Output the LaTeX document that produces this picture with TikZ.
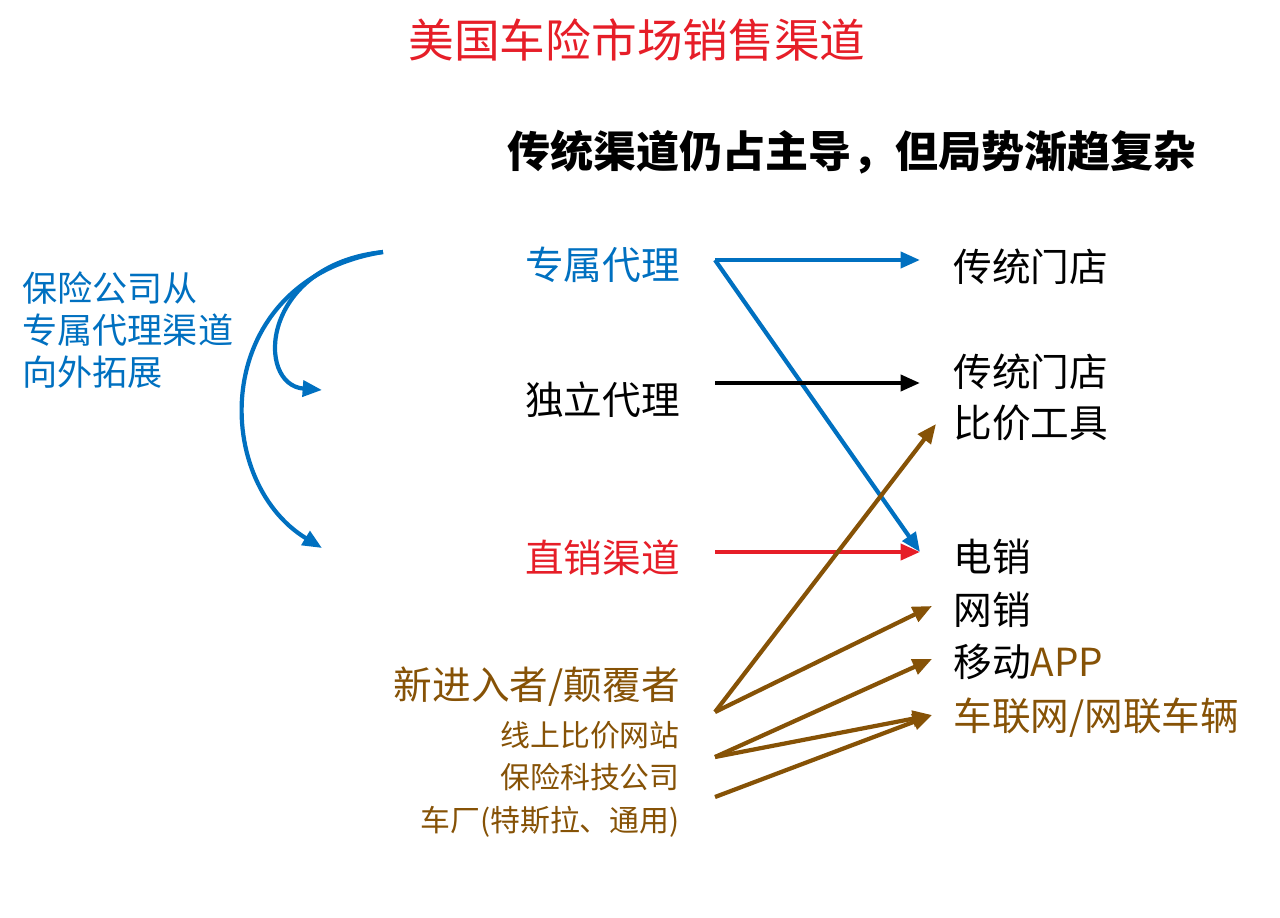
\documentclass[tikz,border=0pt]{standalone}
\usepackage{fontspec}
\setmainfont{Noto Sans CJK SC}
\usetikzlibrary{arrows.meta}
\definecolor{chblue}{RGB}{0,112,192}
\definecolor{chred}{RGB}{230,30,40}
\definecolor{chbrown}{RGB}{134,82,6}
\tikzset{>={Triangle[length=11pt,width=9pt]},
  lbl/.style={anchor=east,inner sep=0pt,font=\fontsize{22pt}{26pt}\selectfont},
  sub/.style={anchor=east,inner sep=0pt,font=\fontsize{17pt}{20pt}\selectfont,text=chbrown},
  tgt/.style={anchor=west,inner sep=0pt,font=\fontsize{22pt}{26pt}\selectfont},
  link/.style={->,line width=2.4pt}}

\begin{document}
\begin{tikzpicture}[x=0.02cm,y=-0.02cm]
	\useasboundingbox (0,0) rectangle (1280,918);
	\node (title) at (637,40) {\fontsize{26pt}{30pt}\selectfont\color{chred}美国车险市场销售渠道};
	\node (head) at (852,152) {\fontsize{24.5pt}{30pt}\selectfont\bfseries 传统渠道仍占主导，但局势渐趋复杂};
	\node [anchor=west,align=left,inner sep=0pt,text=chblue,font=\fontsize{20pt}{24pt}\selectfont] (note) at (22,330) {保险公司从\\专属代理渠道\\向外拓展};
	% channels
	\node [lbl,text=chblue] (excl) at (680,265) {专属代理};
	\node [lbl] (indep) at (680,400) {独立代理};
	\node [lbl,text=chred] (direct) at (680,558) {直销渠道};
	\node [lbl,text=chbrown] (newin) at (680,687) {新进入者/颠覆者};
	\node [sub] (online) at (680,735) {线上比价网站};
	\node [sub] (tech) at (680,777) {保险科技公司};
	\node [sub] (oem) at (680,822) {车厂(特斯拉、通用)};
	% targets
	\node [tgt] (store1) at (953,267) {传统门店};
	\node [tgt] (store2) at (953,372) {传统门店};
	\node [tgt] (compare) at (953,423) {比价工具};
	\node [tgt] (phone) at (953,557) {电销};
	\node [tgt] (web) at (953,610) {网销};
	\node [tgt] (app) at (953,662) {移动\textcolor{chbrown}{APP}};
	\node [tgt,text=chbrown] (iov) at (953,718) {车联网/网联车辆};
	% arrow ends
	\coordinate (e1) at (715,260); \coordinate (e2) at (715,383);
	\coordinate (e3) at (715,552); \coordinate (b1) at (715,712);
	\coordinate (b2) at (715,757); \coordinate (b3) at (715,797);
	\coordinate (t1) at (920,260); \coordinate (t2) at (920,383);
	\coordinate (t3) at (920,552); \coordinate (t4) at (936,424);
	\coordinate (t5) at (932,606); \coordinate (t6) at (932,659);
	\coordinate (t7) at (932,715);
	\draw [link,chblue] (e1) -- (t1);
	\draw [link,chblue] (e1) -- (t3);
	\draw [link] (e2) -- (t2);
	\draw [link,chred] (e3) -- (t3);
	\draw [link,chbrown] (b1) -- (t4);
	\draw [link,chbrown] (b1) -- (t5);
	\draw [link,chbrown] (b2) -- (t6);
	\draw [link,chbrown] (b2) -- (t7);
	\draw [link,chbrown] (b3) -- (t7);
	% expansion curves
	\coordinate (src) at (383,252);
	\coordinate (c1) at (322,390); \coordinate (c2) at (322,548);
	\draw [link,chblue] (src) .. controls (260,265) and (255,385) .. (c1);
	\draw [link,chblue] (src) .. controls (210,280) and (210,480) .. (c2);
\end{tikzpicture}
\end{document}
